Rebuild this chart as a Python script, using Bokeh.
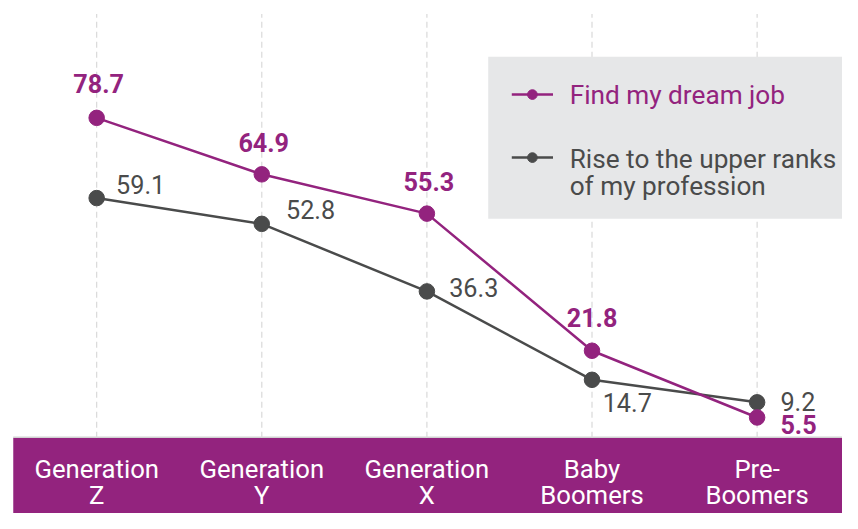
from bokeh.plotting import figure
from bokeh.models import Range1d, ColumnDataSource
from bokeh.core.properties import value
from bokeh.embed import file_html
from bokeh.resources import INLINE

# ---- data ----
categories = ["Generation\nZ", "Generation\nY", "Generation\nX", "Baby\nBoomers", "Pre-\nBoomers"]
dream_job = [78.7, 64.9, 55.3, 21.8, 5.5]
upper_ranks = [59.1, 52.8, 36.3, 14.7, 9.2]
series_names = ["Find my dream job", "Rise to the upper ranks\nof my profession"]

# ---- styles ----
PURPLE = "#93237E"
GRAY = "#4A4B4B"
LEGEND_BG = "#E6E7E8"
FONT = "Roboto"

W, H = 842, 513
RW, RH = 858, 529          # design canvas, scaled into the figure
SX, SY = W / RW, H / RH

# design-pixel -> data coordinate helpers (layout only)
X0_PX, X_STEP = 98.0, 168.25
Y0_PX, Y_UNIT = 453.2, 4.221


def xv(px):
    return (px - X0_PX) / X_STEP


def yv(py):
    return (Y0_PX - py) / Y_UNIT


def s(v):
    return v * SY


xs = list(range(len(categories)))

p = figure(width=W, height=H, output_backend="svg", toolbar_location=None,
           x_range=Range1d(xv(0), xv(RW)), y_range=Range1d(yv(RH), yv(0)),
           x_axis_type=None, y_axis_type=None, min_border=0)
p.grid.visible = False
p.outline_line_color = None
p.background_fill_color = "white"
p.border_fill_color = "white"

# bottom band with category labels
p.quad(left=xv(13), right=xv(RW), bottom=yv(RH), top=yv(451), fill_color=PURPLE, line_color=None)
p.segment(x0=xv(13), x1=xv(RW), y0=yv(450.5), y1=yv(450.5), line_color="#D2D2D2", line_width=1.5)
p.text(x=xs, y=[yv(496.5)] * len(xs), text=categories, text_color="white",
       text_font=value(FONT), text_font_size=f"{s(26.5):.1f}px", text_align="center",
       text_baseline="middle", text_line_height=0.88)

# vertical dashed gridlines
p.segment(x0=xs, x1=xs, y0=[yv(451)] * len(xs), y1=[yv(14)] * len(xs),
          line_color="#D9D9D9", line_width=1.2, line_dash="6 4")

# series lines
p.line(xs, upper_ranks, line_color=GRAY, line_width=2.5)
p.scatter(xs, upper_ranks, size=s(16), fill_color=GRAY, line_color=GRAY)
p.line(xs, dream_job, line_color=PURPLE, line_width=2.5)
p.scatter(xs, dream_job, size=s(16), fill_color=PURPLE, line_color=PURPLE)

# value labels
dj_src = ColumnDataSource(dict(
    x=xs, y=dream_job, t=[f"{v:.1f}" for v in dream_job],
    dx=[s(d) for d in [2, 2, 2, 0, 24]], dy=[s(d) for d in [-35, -33, -33, -34, 7]],
    al=["center", "center", "center", "center", "left"]))
p.text(x="x", y="y", text="t", x_offset="dx", y_offset="dy", text_align="al", source=dj_src,
       text_color=PURPLE, text_font=value(FONT), text_font_size=f"{s(26):.1f}px",
       text_font_style="bold", text_baseline="middle")

ur_src = ColumnDataSource(dict(
    x=xs, y=upper_ranks, t=[f"{v:.1f}" for v in upper_ranks],
    dx=[s(d) for d in [20, 25, 23, 11, 24]], dy=[s(d) for d in [-14, -15, -4, 23, -1]]))
p.text(x="x", y="y", text="t", x_offset="dx", y_offset="dy", source=ur_src,
       text_color=GRAY, text_font=value(FONT), text_font_size=f"{s(26):.1f}px",
       text_align="left", text_baseline="middle")

# legend box (drawn manually)
p.quad(left=xv(497), right=xv(RW), top=yv(58), bottom=yv(225), fill_color=LEGEND_BG, line_color=None)
leg_y = [yv(97), yv(162)]
leg_colors = [PURPLE, GRAY]
p.segment(x0=[xv(521)] * 2, x1=[xv(563)] * 2, y0=leg_y, y1=leg_y, line_color=leg_colors, line_width=2.5)
p.scatter(x=[xv(542)] * 2, y=leg_y, size=s(10), fill_color=leg_colors, line_color=leg_colors)
p.text(x=[xv(580)], y=[yv(97)], text=[series_names[0]], text_color=PURPLE,
       text_font=value(FONT), text_font_size=f"{s(27):.1f}px", text_align="left", text_baseline="middle")
p.text(x=[xv(580)], y=[yv(177)], text=[series_names[1]], text_color=GRAY,
       text_font=value(FONT), text_font_size=f"{s(27):.1f}px", text_align="left", text_baseline="middle",
       text_line_height=0.9)

open("out.html", "w").write(file_html(p, INLINE))
